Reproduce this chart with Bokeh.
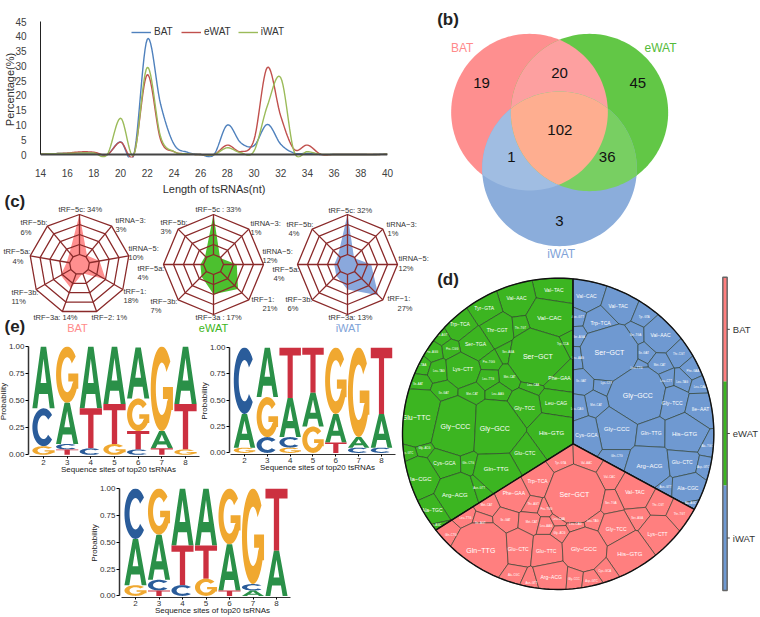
import math
import numpy as np
from bokeh.embed import file_html
from bokeh.resources import INLINE
from bokeh.plotting import figure
from bokeh.models import (FixedTicker, Legend, LegendItem, Span, Label,
                          NumeralTickFormatter, Range1d)
from bokeh.core.properties import value

FONT = "Liberation Sans"

# ---------- (a) length distribution
lengths = list(range(14, 41))
bat_len = [0.1,0.3,0.4,0.5,0.5,0.0,4.3,0.0,39.0,17.0,3.5,0.8,0.0,0.0,10.0,4.0,3.0,10.2,3.5,0.5,0.4,0.0,0.0,0.0,0.0,0.0,0.2]
ewat_len = [0.2,0.3,0.5,0.9,0.8,0.0,4.2,0.0,27.0,5.0,1.0,0.2,0.0,0.0,3.2,1.0,5.0,29.5,13.0,1.8,3.2,0.1,0.0,0.0,0.0,0.0,0.1]
iwat_len = [0.2,0.3,0.4,0.5,0.5,0.0,12.3,0.0,29.5,6.0,1.0,0.2,0.0,0.0,2.3,0.6,1.2,16.5,26.0,1.0,1.0,0.1,0.0,0.0,0.0,0.0,0.1]
len_colors = ["#4f81bd", "#c0504d", "#9bbb59"]
tissues = ["BAT", "eWAT", "iWAT"]

# ---------- (b) venn
venn_counts = ["19", "20", "45", "102", "1", "36", "3"]

# ---------- (c) radars
radar_names_bat = ["tRF−5c","tiRNA−3","tiRNA−5","tRF−1","tRF−2","tRF−3a","tRF−3b","tRF−5a","tRF−5b"]
radar_vals_bat = [34,3,10,18,1,14,11,4,6]
radar_names_wat = ["tRF−5c","tiRNA−3","tiRNA−5","tRF−1","tRF−3a","tRF−3b","tRF−5a","tRF−5b"]
radar_vals_ewat = [33,1,12,21,17,7,4,3]
radar_vals_iwat = [32,1,12,27,13,6,4,4]

# ---------- (e) logos, positions 2..8, letters A C G T
logo_pos = [2,3,4,5,6,7,8]
bat_A = [.57,.38,.57,.53,.47,.16,.53]
bat_C = [.35,.05,.06,.00,.05,.00,.00]
bat_G = [.08,.52,.00,.10,.30,.78,.05]
bat_T = [.00,.05,.37,.37,.17,.06,.42]
ewat_A = [.32,.47,.37,.32,.27,.10,.32]
ewat_C = [.63,.15,.10,.00,.00,.05,.05]
ewat_G = [.05,.38,.05,.25,.63,.85,.00]
ewat_T = [.00,.00,.48,.43,.10,.00,.63]
iwat_A = [.43,.42,.53,.53,.43,.05,.42]
iwat_C = [.47,.10,.10,.00,.00,.06,.00]
iwat_G = [.10,.43,.00,.16,.52,.89,.00]
iwat_T = [.00,.05,.37,.31,.05,.00,.58]

# ---------- (d) voronoi treemap cells: name, layout seed x, y, size class
green_cells = [("Val−TAC",445,72,1),("Val−AAC",333,98,1),("Tyr−GTA",236,128,1),("Val−CAC",432,157,2),
 ("Trp−TCA",163,176,1),("Thr−CGT",275,193,1),("Thr−TGT",345,187,0),("Ser−TGA",210,235,1),("Ile−AGT",110,208,0),
 ("Pro−CGG",140,250,0),("Pro−AGG",80,258,0),("Trp−CCA",472,235,0),("Ser−AGA",308,257,0),("Ser−GCT",397,273,3),
 ("Pro−TGG",250,288,0),("Leu−TAA",45,298,0),("Leu−TAG",100,315,0),("Lys−CTT",172,310,1),("Phe−GAA",462,338,1),
 ("Met−CAT",312,333,0),("Leu−TTG",248,338,0),("Leu−CAA",383,358,0),("Ile−AAT",38,354,0),("Ile−GAT",115,381,0),
 ("Met−CAT",200,385,0),("Leu−AAG",277,385,0),("Leu−CAG",452,411,1),("Gly−TCC",357,426,1),("Glu−TTC",32,457,3),
 ("Gly−CCC",150,484,3),("Gly−GCC",268,490,3),("His−GTG",438,503,2),("Glu−CTC",358,561,1),("Gly−ACG",57,545,0),
 ("Cys−GCA",117,592,1),("Gln−CTG",188,590,0),("Gln−TTG",272,610,2),("Asp−GTC",5,560,0),("Ala−CGC",40,640,2),
 ("Arg−ACG",148,688,2),("Asn−GTT",221,665,0),("Ala−TGC",80,732,1),("Ala−AGC",90,778,0)]
blue_cells = [("Val−CAC",543,90,1),("Val−TAC",638,120,1),("Asn−GTT",517,153,0),("Trp−TCA",585,172,1),("Tyr−GTA",716,152,0),
 ("Ser−AGA",520,212,0),("Ser−TGA",690,208,0),("Val−AAC",765,207,1),("Thr−CGT",820,265,0),("Leu−AAG",517,275,0),
 ("Ser−GCT",612,262,3),("Ile−GAT",715,262,0),("Met−CAT",762,297,0),("Leu−TTG",693,305,0),("Phe−GAA",862,314,0),
 ("Ile−GAT",527,346,0),("Lys−CTT",603,352,0),("Leu−CTT",782,345,0),("Leu−TAG",830,347,0),("Leu−CAA",883,362,0),
 ("Gly−GCC",697,390,3),("Met−CAT",572,418,0),("Gly−TCC",800,411,1),("Ile−AAT",885,431,1),("Leu−CAG",515,429,0),
 ("Gly−CCC",634,490,2),("Gln−TTG",737,503,1),("His−GTG",837,504,2),("Cys−GCA",543,509,1),("Gln−CTG",634,571,0),
 ("Arg−ACG",732,601,2),("Glu−CTC",830,590,1),("Ala−TGC",905,540,0),("Asp−GTC",893,604,0),("Asn−GTT",780,663,0),
 ("Ala−CGC",847,666,1),("Ala−AGC",855,712,0)]
red_cells = [("Tyr−GTA",465,592,0),("Val−AAC",543,590,0),("Val−CAC",612,633,0),("Trp−TCA",396,645,1),("Phe−GAA",325,681,1),
 ("Ser−GCT",507,688,3),("Val−TAC",688,678,1),("Thr−CGT",758,716,0),("Thr−TGT",822,745,0),("Ser−TGA",616,712,0),
 ("Met−CAT",243,718,0),("Thr−AGT",383,714,0),("Pro−TGG",423,728,0),("Ser−AGA",695,755,0),("Leu−TTG",180,757,0),
 ("Ile−AGT",225,771,0),("Ile−GAT",300,763,0),("Met−CAT",378,769,0),("Leu−AAG",422,780,0),("Leu−CAA",460,760,0),
 ("Leu−CAG",510,775,0),("Leu−TAG",562,765,0),("Gly−ACG",462,802,0),("Gly−TCC",632,791,1),("Lys−CTT",756,804,1),
 ("Gln−CTG",136,806,0),("Gln−TTG",226,856,3),("Glu−CTC",338,849,1),("Glu−TTC",422,857,1),("Gly−GCC",535,851,2),
 ("His−GTG",673,864,2),("Cys−GCA",598,916,0),("Ala−CGC",325,926,0),("Asn−GTT",378,950,0),("Arg−ACG",437,933,1),
 ("Gly−CCC",505,938,0),("Asp−GTC",558,944,0)]
bar_names = ["BAT", "eWAT", "iWAT"]
bar_colors = ["#ff7f7f", "#3cb521", "#6f99d1"]

# ---------------- helpers
def new_fig(left, top, w, h, xr, yr, **kw):
    p = figure(width=w, height=h, x_range=xr, y_range=yr, output_backend="svg", toolbar_location=None,
               background_fill_color=None, border_fill_color=None, outline_line_color=None,
               styles={"position": "absolute", "left": f"{left}px", "top": f"{top}px"}, **kw)
    p.grid.visible = False
    return p

def bare(left, top, w, h, xr, yr, **kw):
    p = new_fig(left, top, w, h, xr, yr, min_border=0, **kw)
    p.axis.visible = False
    return p

def put_text(p, xs, ys, texts, size, color="#222222", align="left", baseline="middle", style="normal", angle=0):
    p.text(x=xs, y=ys, text=texts, text_font=value(FONT), text_font_size=value(size), text_color=color,
           text_align=align, text_baseline=baseline, text_font_style=style, angle=angle)

def catmull(xv, yv, n=12):
    xs, ys = [], []
    m = len(xv)
    for i in range(m-1):
        y0 = yv[max(i-1,0)]; y1 = yv[i]; y2 = yv[i+1]; y3 = yv[min(i+2,m-1)]
        for t in np.linspace(0, 1, n, endpoint=False):
            xs.append(xv[i] + t*(xv[i+1]-xv[i]))
            ys.append(0.5*((2*y1)+(-y0+y2)*t+(2*y0-5*y1+4*y2-y3)*t*t+(-y0+3*y1-3*y2+y3)*t**3))
    xs.append(xv[-1]); ys.append(yv[-1])
    return xs, ys

def clip(poly, a, b, c):
    out = []
    n = len(poly)
    for i in range(n):
        p, q = poly[i], poly[(i+1) % n]
        fp = a*p[0]+b*p[1]-c; fq = a*q[0]+b*q[1]-c
        if fp <= 0: out.append(p)
        if (fp < 0 < fq) or (fq < 0 < fp):
            t = fp/(fp-fq)
            out.append((p[0]+t*(q[0]-p[0]), p[1]+t*(q[1]-p[1])))
    return out

def circle_poly(cx, cy, r, n=180):
    return [(cx+r*math.cos(2*math.pi*i/n), cy+r*math.sin(2*math.pi*i/n)) for i in range(n)]

def clip_by_convex(poly, other):
    n = len(other)
    cxo = sum(p[0] for p in other)/n; cyo = sum(p[1] for p in other)/n
    for i in range(n):
        a, b = other[i], other[(i+1) % n]
        nx, ny = b[1]-a[1], a[0]-b[0]
        c = nx*a[0]+ny*a[1]
        if nx*cxo+ny*cyo > c:
            nx, ny, c = -nx, -ny, -c
        poly = clip(poly, nx, ny, c)
        if not poly: break
    return poly

# ---------------- (a)
pa = new_fig(1, 0, 429, 197, Range1d(14, 40), Range1d(-1, 45), min_border_left=38, min_border_right=43, min_border_top=21, min_border_bottom=32)
rends = []
for name, vals, col in zip(tissues, [bat_len, ewat_len, iwat_len], len_colors):
    sx, sy = catmull(lengths, vals)
    rends.append(pa.line(sx, sy, line_color=col, line_width=1.4))
pa.add_layout(Span(location=0, dimension="width", line_color="#444444", line_width=2))
ax = pa.xaxis[0]; ay = pa.yaxis[0]
ax.ticker = FixedTicker(ticks=lengths[::2]); ay.ticker = FixedTicker(ticks=[0,5,10,15,20,25,30,35,40,45])
ax.axis_line_color = None; ax.major_tick_line_color = None; ax.minor_tick_line_color = None
ay.major_tick_line_color = None; ay.minor_tick_line_color = None
ay.bounds = (0, 45); ay.axis_line_color = "#222222"
for a in (ax, ay):
    a.major_label_text_font = FONT; a.major_label_text_font_size = "10px"; a.major_label_text_color = "#404040"
    a.axis_label_text_font = FONT; a.axis_label_text_font_size = "11px"; a.axis_label_text_font_style = "normal"; a.axis_label_text_color = "#303030"
ax.axis_label = "Length of tsRNAs(nt)"; ay.axis_label = "Percentage(%)"
ax.major_label_standoff = 5; ax.axis_label_standoff = 3; ay.major_label_standoff = 8; ay.axis_label_standoff = -4
leg = Legend(items=[LegendItem(label=n, renderers=[r]) for n, r in zip(tissues, rends)], orientation="horizontal",
             location=(91, 120), border_line_color=None, background_fill_color=None, label_text_font=FONT,
             label_text_font_size="10px", label_text_color="#333333", glyph_width=20, glyph_height=10, spacing=7, padding=0, margin=0, label_standoff=3)
pa.add_layout(leg, "center")
pa.add_layout(Label(x=14-37/13.38, y=48.5, text="(a)", text_font=FONT, text_font_size="17px",
                    text_font_style="bold", text_color="#222222", text_baseline="middle"))

# ---------------- (b)
pb = bare(430, 0, 330, 268, Range1d(60, 1050), Range1d(804, 0))
c_bat = circle_poly(357, 335, 235); c_ewat = circle_poly(537, 336, 236); c_iwat = circle_poly(447, 505, 232)
def draw_poly(p, poly, col):
    p.patch([q[0] for q in poly], [q[1] for q in poly], fill_color=col, line_color=None)
draw_poly(pb, c_bat, "#fe8f8f"); draw_poly(pb, c_ewat, "#62c746"); draw_poly(pb, c_iwat, "#8baddb")
be = clip_by_convex(list(c_bat), c_ewat); bi = clip_by_convex(list(c_bat), c_iwat); ei = clip_by_convex(list(c_ewat), c_iwat)
draw_poly(pb, be, "#fda0a0"); draw_poly(pb, bi, "#a0bde2"); draw_poly(pb, ei, "#78cf62")
draw_poly(pb, clip_by_convex(list(be), c_iwat), "#feae90")
put_text(pb, [213,447,682,448,303,590,447], [248,218,248,387,470,470,662], venn_counts, "15px", color="#111111", align="center")
put_text(pb, [155], [141], ["BAT"], "12px", color="#ff8a8a", align="center")
put_text(pb, [750], [141], ["eWAT"], "12px", color="#55bb3a", align="center")
put_text(pb, [452], [760], ["iWAT"], "12px", color="#7fa3d8", align="center")
put_text(pb, [80], [58], ["(b)"], "17px", style="bold")

# ---------------- (c)
pc = bare(0, 185, 430, 155, Range1d(0, 430), Range1d(340, 185))
GRID = "#8a2a2a"
def radar(p, cx, cy, vals, fill):
    n = len(vals); top = max(vals)
    ang = [-math.pi/2 + 2*math.pi*i/n for i in range(n)]
    rr = [8 + v*42/top for v in vals]
    p.patch([cx+r*math.cos(a) for r, a in zip(rr, ang)], [cy+r*math.sin(a) for r, a in zip(rr, ang)], fill_color=fill, line_color=None)
    xs, ys = [], []
    for k in range(1, 6):
        R = 10*k
        xs.append([cx+R*math.cos(a) for a in ang]+[cx+R*math.cos(ang[0])])
        ys.append([cy+R*math.sin(a) for a in ang]+[cy+R*math.sin(ang[0])])
    for a in ang:
        xs.append([cx+10*math.cos(a), cx+50*math.cos(a)]); ys.append([cy+10*math.sin(a), cy+50*math.sin(a)])
    p.multi_line(xs, ys, line_color=GRID, line_width=1.3)
radar(pc, 79, 264, radar_vals_bat, "#ff8f8f")
radar(pc, 213, 264, radar_vals_ewat, "#4cc02f")
radar(pc, 347, 264, radar_vals_iwat, "#8aa8dc")

def rl(name, vals, names):
    return f"{vals[names.index(name)]}%"
B, W = radar_names_bat, radar_names_wat
vb, ve, vi = radar_vals_bat, radar_vals_ewat, radar_vals_iwat
lab = [
 ("tRF−5c: "+rl("tRF−5c",vb,B),58,209),("tRF−5b:",20,222),(rl("tRF−5b",vb,B),20,232),("tiRNA−3:",115,220),(rl("tiRNA−3",vb,B),115,229),
 ("tiRNA−5:",128,248),(rl("tiRNA−5",vb,B),128,257),("tRF−5a:",3,251),(rl("tRF−5a",vb,B),12,261),("tRF−1:",123,291),(rl("tRF−1",vb,B),123,300),
 ("tRF−3b:",11,292),(rl("tRF−3b",vb,B),11,301),("tRF−3a: "+rl("tRF−3a",vb,B),33,317),("tRF−2: "+rl("tRF−2",vb,B),91,317),
 ("tRF−5c : "+rl("tRF−5c",ve,W),195,209),("tRF−5b:",160,222),(rl("tRF−5b",ve,W),160,231),("tiRNA−3:",250,223),(rl("tiRNA−3",ve,W),250,232),
 ("tiRNA−5:",262,251),(rl("tiRNA−5",ve,W),262,260),("tRF−5a:",137,268),(rl("tRF−5a",ve,W),137,277),("tRF−3b:",150,301),(rl("tRF−3b",ve,W),150,310),
 ("tRF−1:",251,299),(rl("tRF−1",ve,W),262,308),("tRF−3a : "+rl("tRF−3a",ve,W),195,317),
 ("tRF−5c: "+rl("tRF−5c",vi,W),328,210),("tRF−5b:",286,224),(rl("tRF−5b",vi,W),288,233),("tiRNA−3:",386,224),(rl("tiRNA−3",vi,W),387,233),
 ("tiRNA−5:",398,258),(rl("tiRNA−5",vi,W),398,268),("tRF−1:",387,298),(rl("tRF−1",vi,W),397,308),("tRF−5a:",272,269),(rl("tRF−5a",vi,W),273,278),
 ("tRF−3b:",285,299),(rl("tRF−3b",vi,W),287,308),("tRF−3a: "+rl("tRF−3a",vi,W),328,317)]
put_text(pc, [l[1] for l in lab], [l[2] for l in lab], [l[0] for l in lab], "7.5px", color="#333333")
put_text(pc, [77], [327], ["BAT"], "11px", color="#ff8a8a", align="center")
put_text(pc, [213], [327], ["eWAT"], "11px", color="#3cb521", align="center")
put_text(pc, [348], [327], ["iWAT"], "11px", color="#7fa3d8", align="center")
put_text(pc, [4], [201], ["(c)"], "17px", style="bold")
put_text(pc, [4], [326], ["(e)"], "17px", style="bold")

# ---------------- (e)
def arc(rx, ry, a0, a1, n=40):
    t = np.radians(np.linspace(a0, a1, n))
    return list(0.5+rx*np.cos(t)), list(0.5+ry*np.sin(t))
def shape(letter):
    if letter == "A":
        return [([0,.22,.30,.70,.78,1,.62,.38],[0,0,.23,.23,0,0,1,1]), ([.37,.63,.5],[.41,.41,.80])]
    if letter == "T":
        return [([0,1,1,.62,.62,.38,.38,0],[1,1,.84,.84,0,0,.84,.84])]
    ox, oy = arc(.5, .5, 40, 320 if letter == "C" else 330)
    if letter == "C":
        ix, iy = arc(.27, .31, 320, 40)
        return [(ox+ix, oy+iy)]
    ix, iy = arc(.27, .31, 330, 40)
    return [(ox+[1,1,.55,.55,.78]+ix, oy+[.25,.52,.52,.38,.38]+iy)]
LCOL = {"A":"#2a9048","C":"#2a5c9a","G":"#f0a830","T":"#cc3040"}
def logo(p, A, C, G, T):
    xs, ys, cols = [], [], []
    for i, pos in enumerate(logo_pos):
        items = [("A",A[i]),("C",C[i]),("G",G[i]),("T",T[i])]
        items = sorted(items, key=lambda it: -it[1])
        top = sum(it[1] for it in items)
        for L, h in items:
            if h <= 0: continue
            base = top-h
            rings_x, rings_y = [], []
            for rx, ry in shape(L):
                rings_x.append([pos-.47+.94*float(u) for u in rx])
                rings_y.append([base+h*float(u) for u in ry])
            xs.append([rings_x]); ys.append([rings_y]); cols.append(LCOL[L])
            top = base
    p.multi_polygons(xs, ys, fill_color=cols, line_color=None)

def logo_fig(fl, ft, w, h, xr, yr, left, right, top, bottom, title, title_x, title_y, A, C, G, T):
    p = new_fig(fl, ft, w, h, Range1d(*xr), Range1d(*yr), min_border_left=left, min_border_right=right, min_border_top=top, min_border_bottom=bottom)
    logo(p, A, C, G, T)
    ax, ay = p.xaxis[0], p.yaxis[0]
    ax.ticker = FixedTicker(ticks=logo_pos); ay.ticker = FixedTicker(ticks=[0,.25,.5,.75,1])
    ay.formatter = NumeralTickFormatter(format="0.00")
    ax.bounds = (logo_pos[0]-.6, logo_pos[-1]+.6); ay.bounds = (0, 1)
    ay.axis_line_width = 1.5; ay.axis_line_color = "#333333"; ax.axis_line_color = "#333333"
    ay.major_tick_out = 3; ay.major_tick_in = 0; ax.major_tick_out = 2; ax.major_tick_in = 0
    ay.minor_tick_line_color = None; ax.minor_tick_line_color = None
    for a in (ax, ay):
        a.major_label_text_font = FONT; a.major_label_text_font_size = "8px"; a.major_label_text_color = "#303030"
        a.axis_label_text_font = FONT; a.axis_label_text_font_size = "8px"; a.axis_label_text_font_style = "normal"; a.axis_label_text_color = "#202020"
    ax.axis_label = "Sequence sites of top20 tsRNAs"; ay.axis_label = "Probability"
    ax.major_label_standoff = 1; ax.axis_label_standoff = -3
    ay.major_label_standoff = 1; ay.axis_label_standoff = -2
    p.add_layout(Label(x=title_x, y=title_y, text=title, text_font=FONT, text_font_size="10px", text_color="#222222", text_align="center", text_baseline="middle"))
    return p

pe1 = logo_fig(-7, 334, 219, 143, (2-15/23.67, 8+23/23.67), (-.015, 1.0), 35, 4, 12, 21, "BAT", 4.95, 1.05, bat_A, bat_C, bat_G, bat_T)
pe2 = logo_fig(194, 334, 226, 143, (2-15/22.83, 8+24/22.83), (-.015, 1.0), 35, 15, 13, 23, "eWAT", 5.0, 1.06, ewat_A, ewat_C, ewat_G, ewat_T)
pe3 = logo_fig(84, 477, 226, 140, (2-16/23.5, 8+29/23.5), (-.015, 1.0), 35, 5, 11, 19, "iWAT", 4.4, 1.05, iwat_A, iwat_C, iwat_G, iwat_T)

# ---------------- (d)
pd_ = bare(400, 268, 360, 349, Range1d(-15, 1065), Range1d(1056, 9))
CX, CY, CR = 458, 505, 467
HUB = (503, 535)
def sector(a0, a1):
    pts = [HUB]
    for t in np.radians(np.linspace(a0, a1, 80)):
        pts.append((CX+CR*math.cos(t), CY+CR*math.sin(t)))
    return pts
W8 = {0: 0, 1: 1800, 2: 3500, 3: 7000}
FS = {0: "2.8px", 1: "5px", 2: "6px", 3: "7px"}
def cells(p, table, a0, a1, col):
    secp = sector(a0, a1)
    xs, ys = [], []
    for i, (n, x, y, k) in enumerate(table):
        poly = list(secp)
        wi = W8[k]
        for j, (n2, x2, y2, k2) in enumerate(table):
            if i == j: continue
            poly = clip(poly, 2*(x2-x), 2*(y2-y), x2*x2+y2*y2-x*x-y*y+wi-W8[k2])
            if not poly: break
        if poly:
            xs.append([q[0] for q in poly]); ys.append([q[1] for q in poly])
    p.patches(xs, ys, fill_color=col, line_color="#2a3a2a", line_width=0.6)
    for k, fs in FS.items():
        sub = [c for c in table if c[3] == k]
        if sub:
            put_text(p, [c[1] for c in sub], [c[2] for c in sub], [c[0] for c in sub], fs, color="#ffffff", align="center")
    p.patch([q[0] for q in secp], [q[1] for q in secp], fill_color=None, line_color="#111111", line_width=1.4)
cells(pd_, green_cells, 141.8, 275.5, "#3cb521")
cells(pd_, blue_cells, -84.5, 29, "#6f99d1")
cells(pd_, red_cells, 29, 141.8, "#ff7f7f")
put_text(pd_, [95], [42], ["(d)"], "17px", style="bold")
bar_edges = [35, 348, 660, 975]
pd_.quad(left=[952]*3, right=[965]*3, top=bar_edges[:3], bottom=bar_edges[1:], fill_color=bar_colors, line_color=None)
pd_.quad(left=[952], right=[965], top=[35], bottom=[975], fill_color=None, line_color="#666666", line_width=1.5)
mids = [(bar_edges[i]+bar_edges[i+1])/2 for i in range(3)]
pd_.segment(x0=[965]*3, x1=[973]*3, y0=mids, y1=mids, line_color="#444444", line_width=1)
put_text(pd_, [982]*3, mids, bar_names, "9.5px", color="#333333")

open("out.html", "w").write(file_html([pa, pc, pe1, pe2, pe3, pb, pd_], INLINE))
